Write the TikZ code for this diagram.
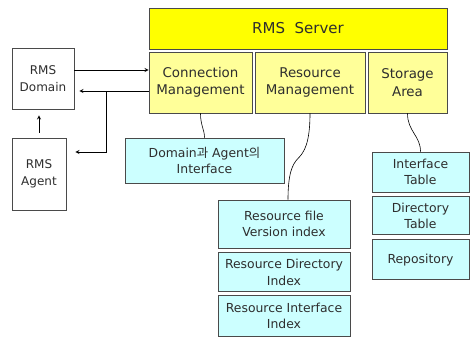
\documentclass[tikz,border=0pt]{standalone}
\usepackage{fontspec}
\setmainfont{DejaVu Sans}
\newfontfamily\krfont{Noto Sans CJK KR}
\usepackage{tikz}
\usetikzlibrary{arrows, positioning}
\definecolor{serveryellow}{HTML}{FFFF00}
\definecolor{partyellow}{HTML}{FFFF99}
\definecolor{indexcyan}{HTML}{CCFFFF}
\definecolor{boxline}{HTML}{4A4A4A}
\definecolor{boxtext}{HTML}{2E2E2E}
\tikzstyle{server} = [rectangle, minimum width=298pt, minimum height=41pt, text centered, draw=boxline, line width=0.9pt, fill=serveryellow, text=boxtext, font=\fontsize{15}{18}\selectfont]
\tikzstyle{part} = [rectangle, minimum height=61pt, inner sep=0pt, align=center, draw=boxline, line width=0.9pt, fill=partyellow, text=boxtext, font=\fontsize{13.4}{17.5}\selectfont]
\tikzstyle{client} = [rectangle, inner sep=0pt, align=center, draw=boxline, line width=0.8pt, fill=white, text=boxtext, font=\fontsize{12}{17}\selectfont]
\tikzstyle{index} = [rectangle, inner sep=0pt, align=center, draw=boxline, line width=0.8pt, fill=indexcyan, text=boxtext, font=\fontsize{12.4}{16.5}\selectfont]
\tikzstyle{arrow} = [line width=0.8pt,->,>=stealth]
\tikzstyle{link} = [line width=0.6pt]

\begin{document}
\begin{tikzpicture}[x=1pt, y=-1pt]
        \useasboundingbox (0,0) rectangle (470,338);
        % Nodes
        \node (server) [server] at (298,28.5) {RMS\ \ Server};
        \node (connmgmt) [part, minimum width=103pt] at (200.5,82.5) {Connection\\Management};
        \node (resmgmt) [part, minimum width=110pt] at (310,82.5) {Resource\\Management};
        \node (storage) [part, minimum width=79pt] at (407.5,82.5) {Storage\\Area};
        \node (domain) [client, minimum width=62pt, minimum height=61pt] at (43,78.5) {RMS\\Domain};
        \node (agent) [client, minimum width=54pt, minimum height=72pt] at (39,174) {RMS\\Agent};
        \node (dainterface) [index, minimum width=159pt, minimum height=45pt] at (204.5,160.5) {Domain{\krfont 과} Agent{\krfont 의}\\Interface};
        \node (resfile) [index, minimum width=132pt, minimum height=48pt] at (284,224) {Resource file\\Version index};
        \node (resdir) [index, minimum width=132pt, minimum height=39pt, below=4pt of resfile] {Resource Directory\\Index};
        \node (resintf) [index, minimum width=132pt, minimum height=41pt, below=3pt of resdir] {Resource Interface\\Index};
        \node (intftable) [index, minimum width=97pt, minimum height=40pt] at (420.5,172) {Interface\\Table};
        \node (dirtable) [index, minimum width=97pt, minimum height=38pt, below=4pt of intftable] {Directory\\Table};
        \node (repository) [index, minimum width=97pt, minimum height=40pt, below=4pt of dirtable] {Repository};
        \coordinate (branch) at (106,91);

        % Arrows
        \draw [arrow] ([yshift=8.5pt]domain.east) -- ([yshift=8.5pt]domain.east -| connmgmt.west);
        \draw [arrow] (branch -| connmgmt.west) -- ([xshift=5pt]branch -| domain.east);
        \draw [arrow] (branch) |- ([xshift=9pt,yshift=22pt]agent.east);
        \draw [arrow] ([yshift=5pt]agent.north) -- ([yshift=-6pt]agent.north |- domain.south);

        % Links
        \draw [link] (connmgmt.south) .. controls +(0,12) and +(0,-8) .. (dainterface.north);
        \draw [link] (resmgmt.south) .. controls +(0,30) and +(6,-6) .. ++(-12,45) .. controls +(-6,6) and +(0,-25) .. ([xshift=4pt]resfile.north);
        \draw [link] (storage.south) .. controls +(0,18) and +(0,-16) .. (intftable.north);
    \end{tikzpicture}
\end{document}
